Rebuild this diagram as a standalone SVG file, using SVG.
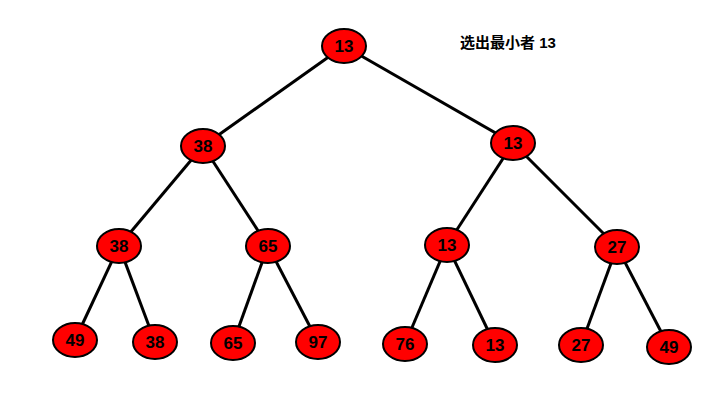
<svg xmlns="http://www.w3.org/2000/svg" width="727" height="401" viewBox="0 0 727 401">
<style>
ellipse{fill:#ff0000;stroke:#000;stroke-width:2}
text{font-family:"Liberation Sans",Arial,sans-serif;font-weight:bold;font-size:17px;text-anchor:middle;fill:#000}
.c line{stroke:#000;stroke-width:3}
</style>
<rect width="727" height="401" fill="#fff"/>
<g class="c">
<line x1="344" y1="46" x2="203" y2="146"/><line x1="344" y1="46" x2="513" y2="143"/>
<line x1="203" y1="146" x2="119" y2="246"/><line x1="203" y1="146" x2="268" y2="246"/>
<line x1="513" y1="143" x2="447" y2="245"/><line x1="513" y1="143" x2="617" y2="247"/>
<line x1="119" y1="246" x2="75" y2="340"/><line x1="119" y1="246" x2="155" y2="342"/>
<line x1="268" y1="246" x2="233" y2="343"/><line x1="268" y1="246" x2="318" y2="342"/>
<line x1="447" y1="245" x2="405" y2="344"/><line x1="447" y1="245" x2="495" y2="345"/>
<line x1="617" y1="247" x2="581" y2="345"/><line x1="617" y1="247" x2="669" y2="347"/>
</g>
<g id="n1"><ellipse cx="344" cy="46" rx="22" ry="17"/><text x="344" y="52">13</text></g>
<g id="n2"><ellipse cx="203" cy="146" rx="22" ry="17"/><text x="203" y="152">38</text></g>
<g id="n3"><ellipse cx="513" cy="143" rx="22" ry="17"/><text x="513" y="149">13</text></g>
<g id="n4"><ellipse cx="119" cy="246" rx="22" ry="17"/><text x="119" y="252">38</text></g>
<g id="n5"><ellipse cx="268" cy="246" rx="22" ry="17"/><text x="268" y="252">65</text></g>
<g id="n6"><ellipse cx="447" cy="245" rx="22" ry="17"/><text x="447" y="251">13</text></g>
<g id="n7"><ellipse cx="617" cy="247" rx="22" ry="17"/><text x="617" y="253">27</text></g>
<g id="n8"><ellipse cx="75" cy="340" rx="22" ry="17"/><text x="75" y="346">49</text></g>
<g id="n9"><ellipse cx="155" cy="342" rx="22" ry="17"/><text x="155" y="348">38</text></g>
<g id="n10"><ellipse cx="233" cy="343" rx="22" ry="17"/><text x="233" y="349">65</text></g>
<g id="n11"><ellipse cx="318" cy="342" rx="22" ry="17"/><text x="318" y="348">97</text></g>
<g id="n12"><ellipse cx="405" cy="344" rx="22" ry="17"/><text x="405" y="350">76</text></g>
<g id="n13"><ellipse cx="495" cy="345" rx="22" ry="17"/><text x="495" y="351">13</text></g>
<g id="n14"><ellipse cx="581" cy="345" rx="22" ry="17"/><text x="581" y="351">27</text></g>
<g id="n15"><ellipse cx="669" cy="347" rx="22" ry="17"/><text x="669" y="353">49</text></g>
<text x="460" y="48" style="text-anchor:start;font-size:15px;font-family:'Liberation Sans','Noto Sans CJK SC',sans-serif">选出最小者 13</text>
</svg>
